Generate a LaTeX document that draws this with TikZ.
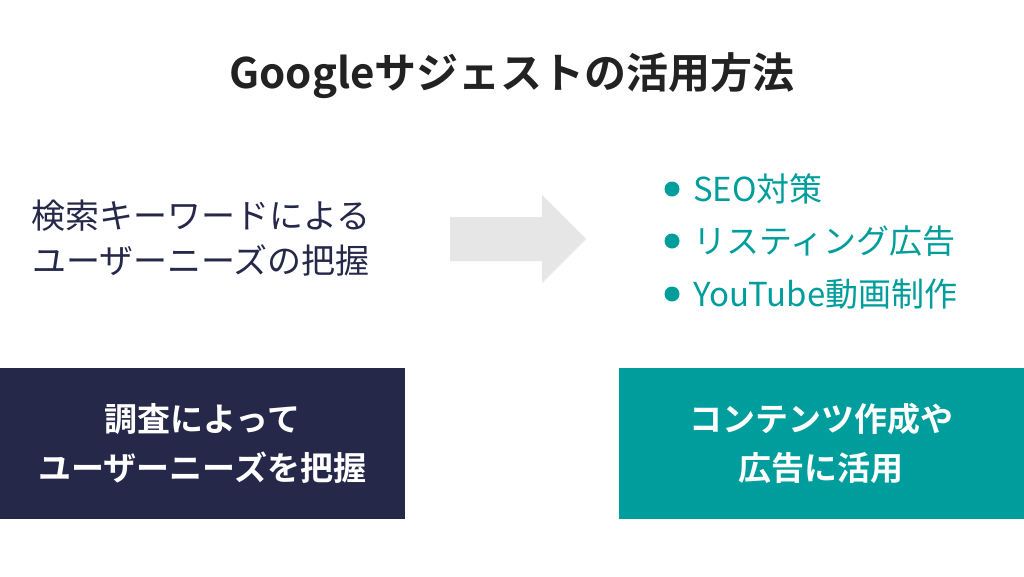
\documentclass[tikz,border=0pt]{standalone}
\usepackage{fontspec}
\setmainfont{Noto Sans CJK JP}[BoldFont={Noto Sans CJK JP Bold}]
\usepackage{tikz}
\usetikzlibrary{positioning}

\definecolor{navy}{HTML}{252849}
\definecolor{teal}{HTML}{009D9D}
\definecolor{ink}{HTML}{222222}
\definecolor{arrowgray}{HTML}{E6E6E6}

\begin{document}
\begin{tikzpicture}[x=1pt,y=-1pt,
    title/.style={text=ink,font=\bfseries\fontsize{42}{50}\selectfont},
    needs/.style={text=navy,align=center,font=\fontsize{34}{45}\selectfont},
    item/.style={text=teal,anchor=west,inner sep=0pt,font=\fontsize{33}{40}\selectfont},
    dot/.style={circle,fill=teal,inner sep=0pt,minimum size=15pt},
    panel/.style={minimum width=405pt,minimum height=151pt,inner sep=0pt,
      text=white,align=center,font=\bfseries\fontsize{33}{49}\selectfont}]
      \useasboundingbox[fill=white] (0,0) rectangle (1024,576);
      \node[title] (t) at (512,76) {Googleサジェストの活用方法};
      \node[needs] (n) at (201,238) {検索キーワードによる\\ユーザーニーズの把握};
      % block arrow
      \fill[arrowgray] (450,217) -- (542,217) -- (542,195) -- (586,239)
        -- (542,283) -- (542,261) -- (450,261) -- cycle;
      \node[dot] (d_1) at (672,189) {};
      \node[dot] (d_2) at (672,241) {};
      \node[dot] (d_3) at (672,294) {};
      \node[item] (i_1) at (693,189) {SEO対策};
      \node[item] (i_2) at (693,241) {リスティング広告};
      \node[item] (i_3) at (693,294) {YouTube動画制作};
      \node[panel,fill=navy] (p_1) at (202.5,443.5) {調査によって\\ユーザーニーズを把握};
      \node[panel,fill=teal] (p_2) at (821,443.5) {コンテンツ作成や\\広告に活用};
    \end{tikzpicture}
\end{document}
